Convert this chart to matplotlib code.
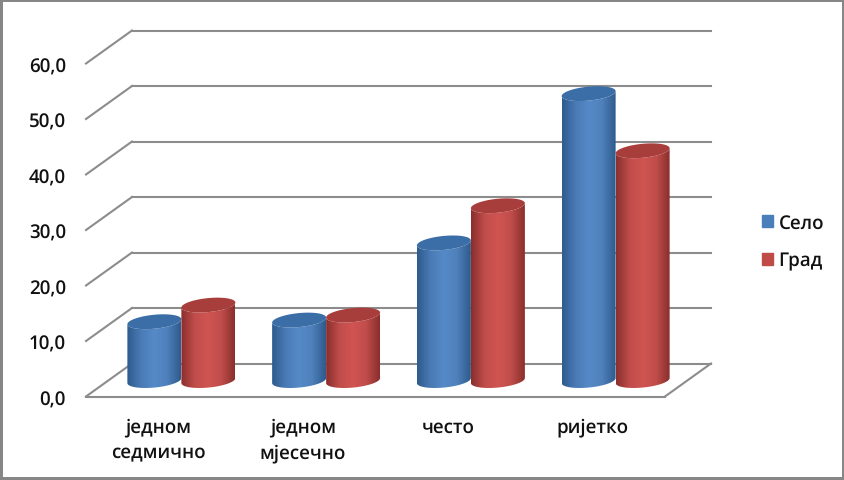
import matplotlib
matplotlib.use("Agg")
import matplotlib.pyplot as plt
import numpy as np
from matplotlib.colors import LinearSegmentedColormap
from matplotlib.patches import Patch, Polygon, Rectangle

categories = [["једном", "седмично"], ["једном", "мјесечно"], ["често"], ["ријетко"]]
selo = [10.6, 10.9, 24.8, 51.7]
grad = [13.6, 11.8, 31.5, 41.4]
y_ticks = [0, 10, 20, 30, 40, 50, 60]
series_names = ["Село", "Град"]

plt.rcParams["font.family"] = ["Open Sans", "DejaVu Sans"]
plt.rcParams["text.hinting"] = "none"

# one x unit is one category, one y unit is one percent
w, h = 845, 481
px_x = 144.75
px_y = 5.55
x0_px, y0_px = 86, 397.5
depth_x = 46 / px_x
depth_y = 33 / px_y
bar_rx = 27 / px_x
bar_ry = 7 / px_y
bar_tilt = 2.5 / px_y

blue_map = LinearSegmentedColormap.from_list("b", ["#2f5c8e", "#4a7ab5", "#558ac8", "#4f80bb", "#2f5c8e"])
red_map = LinearSegmentedColormap.from_list("r", ["#8a2f2d", "#c04d4a", "#d05452", "#c04d4a", "#8a2f2d"])

fig = plt.figure(figsize=(w / 100, h / 100), dpi=100)
ax = fig.add_axes([0, 0, 1, 1])
ax.axis("off")

grid_color = "#8c8c8c"
n = len(categories)
for v in y_ticks:
    ax.plot([0, depth_x], [v, v + depth_y], color=grid_color, lw=1.5, zorder=1)
    ax.plot([depth_x, n + depth_x], [v + depth_y, v + depth_y], color=grid_color, lw=1.5, zorder=1)
    ax.text(-20 / px_x, v - 3 / px_y, f"{v:.1f}".replace(".", ","), ha="right", va="center",
            fontsize=13.5, fontweight="semibold", color="#111111")
ax.plot([0, n], [0, 0], color=grid_color, lw=1.5, zorder=1)
ax.plot([n, n + depth_x], [0, depth_y], color=grid_color, lw=1.5, zorder=1)


def draw_cylinder(xc, value, cmap, top_color, z):
    t = np.linspace(0, np.pi, 40)
    base = depth_y / 2 - 0.1
    top = value + base
    # front outline, the cap covers the back of the top
    xs = xc + bar_rx * np.cos(t)
    lower = base - bar_ry * np.sin(t) + bar_tilt * np.cos(t)
    upper = top - bar_ry * np.sin(t) + bar_tilt * np.cos(t)
    verts = np.vstack([np.c_[xs, lower], np.c_[xs[::-1], upper[::-1]]])
    body = Polygon(verts, closed=True, facecolor="none", edgecolor="none", zorder=z)
    ax.add_patch(body)
    grad_img = np.linspace(0, 1, 64).reshape(1, -1)
    im = ax.imshow(grad_img, cmap=cmap, aspect="auto", zorder=z,
                   extent=[xc - bar_rx, xc + bar_rx, base - bar_ry - bar_tilt, top + bar_ry + bar_tilt])
    im.set_clip_path(body)
    t2 = np.linspace(0, 2 * np.pi, 80)
    cap = np.c_[xc + bar_rx * np.cos(t2), top + bar_ry * np.sin(t2) + bar_tilt * np.cos(t2)]
    ax.add_patch(Polygon(cap, closed=True, facecolor=top_color, edgecolor="none", zorder=z + 0.1))


for i in range(n):
    center = i + 0.5 + depth_x / 2
    draw_cylinder(center - bar_rx, selo[i], blue_map, "#3b6ea6", 2 + i * 2)
    draw_cylinder(center + bar_rx, grad[i], red_map, "#a83e3b", 3 + i * 2)
    for k, line in enumerate(categories[i]):
        ax.text(i + 0.5, -(30 + k * 26) / px_y, line, ha="center", va="center",
                fontsize=13.5, fontweight="semibold", color="#111111")

ax.set_xlim(-x0_px / px_x, (w - x0_px) / px_x)
ax.set_ylim(-(h - y0_px) / px_y, y0_px / px_y)

handles = [Patch(color="#4a7ebb"), Patch(color="#be4b48")]
ax.legend(handles, series_names, loc="center left", bbox_to_anchor=(0.8817, 0.495), frameon=False,
          handlelength=0.59, handleheight=0.59, handletextpad=0.3, labelspacing=1.0,
          prop={"weight": "semibold", "size": 13.5}, labelcolor="#111111")

fig.add_artist(Rectangle((0, 0), 1, 1, transform=fig.transFigure, fill=False, edgecolor="#868686", lw=4.3))
fig.savefig("out.png", dpi=100)
